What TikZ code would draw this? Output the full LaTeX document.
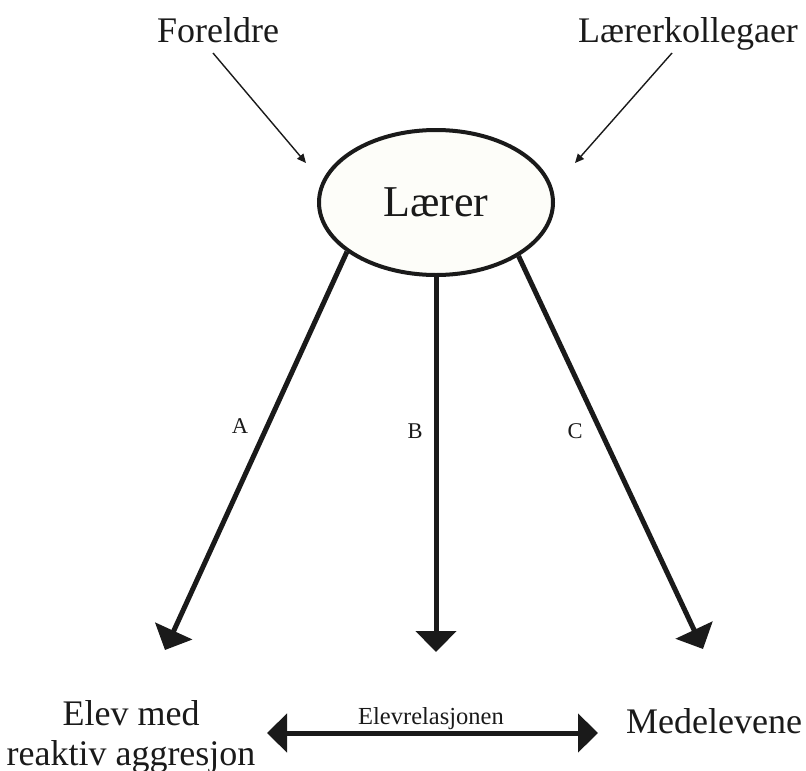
\documentclass[tikz,border=0pt]{standalone}
\usepackage{fontspec}
\setmainfont{Liberation Serif}
\usetikzlibrary{arrows.meta,shapes.geometric}

\definecolor{ink}{HTML}{1A1A1A}
\definecolor{paper}{HTML}{FDFDF9}

\tikzset{
  label text/.style={inner sep=0pt, text=ink, font=\fontsize{36}{40}\selectfont},
  letter/.style={inner sep=0pt, text=ink, anchor=base, font=\fontsize{22.5}{26}\selectfont},
  bold arrow/.style={draw=ink, line width=5pt,
    -{Triangle[length=21pt,width=40pt]}},
  thin arrow/.style={draw=ink, line width=1.4pt,
    -{Triangle[length=9pt,width=8pt]}},
  both arrow/.style={draw=ink, line width=5pt,
    {Triangle[length=20pt,width=38pt]}-{Triangle[length=20pt,width=38pt]}},
}

\begin{document}
\begin{tikzpicture}[x=1pt,y=-1pt]
  \useasboundingbox (0,0) rectangle (806,771);

  % the teacher in the middle
  \node[ellipse, draw=ink, fill=paper, line width=4pt,
        minimum width=234pt, minimum height=145pt, inner sep=0pt,
        text=ink, font=\fontsize{44}{48}\selectfont]
        (laerer) at (436,202.5) {Lærer};

  % outside influences
  \node[label text, anchor=base] (foreldre) at (218,42) {Foreldre};
  \node[label text, anchor=base] (kolleger) at (688,42) {Lærerkollegaer};

  % the pupils
  \node[label text, align=center] (elev) at (131,736.5)
        {Elev med\\reaktiv aggresjon};
  \node[label text, anchor=base] (medelever) at (714,733) {Medelevene};

  % end points of the arrows
  \coordinate (fStart) at (213,53);
  \coordinate (fTip)   at (306,163);
  \coordinate (kStart) at (672,53);
  \coordinate (kTip)   at (575,163);
  \coordinate (tipA) at (165,650);
  \coordinate (tipB) at (436,652);
  \coordinate (tipC) at (703,649);
  \coordinate (relL) at (267,733);
  \coordinate (relR) at (598,733);

  \draw[thin arrow] (fStart) -- (fTip);
  \draw[thin arrow] (kStart) -- (kTip);

  \draw[bold arrow] (laerer.209.3) -- (tipA);
  \draw[bold arrow] (laerer.south) -- (tipB);
  \draw[bold arrow] (laerer.327) -- (tipC);

  \draw[both arrow] (relL) -- (relR);

  % arrow labels
  \node[letter] (labA) at (240,433) {A};
  \node[letter] (labB) at (415,438) {B};
  \node[letter] (labC) at (575,438) {C};
  \node[inner sep=0pt, text=ink, anchor=base,
        font=\fontsize{24.5}{28}\selectfont] (rel) at (431,724) {Elevrelasjonen};
\end{tikzpicture}
\end{document}
